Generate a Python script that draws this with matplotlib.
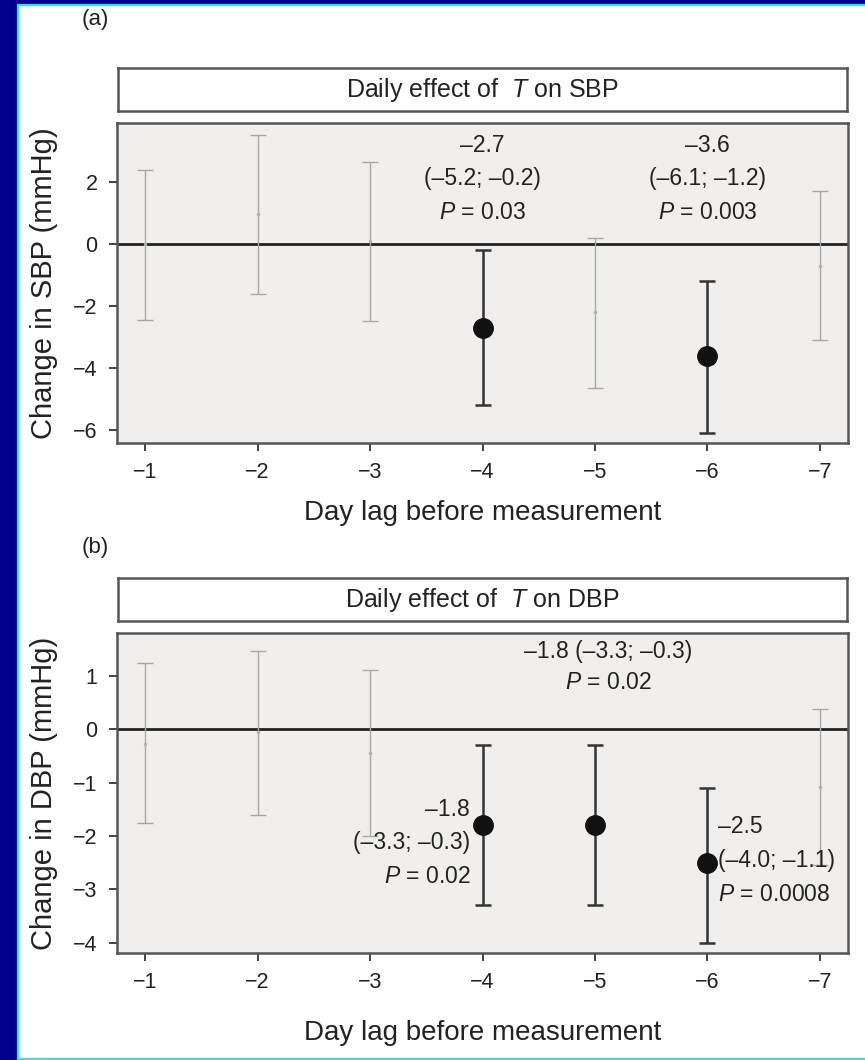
import matplotlib
matplotlib.use("Agg")
import matplotlib.pyplot as plt
from matplotlib.patches import Rectangle
from matplotlib import font_manager

names = {f.name for f in font_manager.fontManager.ttflist}
narrow = "Liberation Sans Narrow" if "Liberation Sans Narrow" in names else "Liberation Sans"
plt.rcParams["font.family"] = [narrow, "DejaVu Sans"]
plt.rcParams["mathtext.fontset"] = "custom"
plt.rcParams["mathtext.it"] = narrow + ":italic"
plt.rcParams["mathtext.rm"] = narrow

# day lags and model estimates with 95% CI
lags = [-1, -2, -3, -4, -5, -6, -7]

sbp_est = [0.0, 0.95, 0.1, -2.7, -2.2, -3.6, -0.7]
sbp_lo = [-2.45, -1.6, -2.5, -5.2, -4.65, -6.1, -3.1]
sbp_hi = [2.4, 3.5, 2.65, -0.2, 0.2, -1.2, 1.7]
sbp_sig = [False, False, False, True, False, True, False]
sbp_p = {-4: "0.03", -6: "0.003"}

dbp_est = [-0.28, -0.05, -0.45, -1.8, -1.8, -2.5, -1.08]
dbp_lo = [-1.76, -1.6, -2.0, -3.3, -3.3, -4.0, -2.54]
dbp_hi = [1.24, 1.47, 1.11, -0.3, -0.3, -1.1, 0.38]
dbp_sig = [False, False, False, True, True, True, False]

W, H = 865, 1060
fig = plt.figure(figsize=(W / 100, H / 100), dpi=100)
fig.patch.set_facecolor("#00008c")
fig.patches.append(Rectangle((17.5 / W, 1 - 1058.5 / H), (W + 5) / W, 1053.5 / H,
                             transform=fig.transFigure, facecolor="white",
                             edgecolor="#22e8f0", linewidth=1.6, zorder=-5))

TXT = "#222222"
ANN = dict(fontsize=16.5, linespacing=1.6, color=TXT, va="center")


def px(l, t, r, b):
    return [l / W, 1 - b / H, (r - l) / W, (b - t) / H]


def dash(v):
    return str(v).replace("-", "\u2013")


def strip(rect, title):
    s = fig.add_axes(px(*rect))
    s.set_xticks([])
    s.set_yticks([])
    s.set_facecolor("white")
    for sp in s.spines.values():
        sp.set_color("#555555")
        sp.set_linewidth(1.8)
    s.text(0.5, 0.5, title, ha="center", va="center", fontsize=18,
           transform=s.transAxes, color=TXT)


def panel(rect, est, lo, hi, sig, ylim, yticks, ylabel, xpad):
    ax = fig.add_axes(px(*rect))
    ax.set_facecolor("#f0efee")
    for x, m, a, b, s in zip(lags, est, lo, hi, sig):
        if s:
            ax.errorbar(x, m, yerr=[[m - a], [b - m]], fmt="o", color="#111111",
                        ecolor="#333333", elinewidth=1.8, capsize=6, capthick=1.8,
                        markersize=14, zorder=3)
        else:
            ax.errorbar(x, m, yerr=[[m - a], [b - m]], fmt="o", color="#b0b0b0",
                        ecolor="#a8a8a8", elinewidth=1.0, capsize=6, capthick=1.0,
                        markersize=1.5, zorder=2)
    ax.axhline(0, color="#222222", linewidth=2.0, zorder=1)
    ax.set_xlim(-0.75, -7.25)
    ax.set_ylim(*ylim)
    ax.set_xticks(lags)
    ax.set_yticks(yticks)
    ax.tick_params(labelsize=15.5, length=6, width=1.3, color="#333333", pad=8,
                   labelcolor=TXT)
    for sp in ax.spines.values():
        sp.set_color("#555555")
        sp.set_linewidth(1.8)
    ax.set_xlabel("Day lag before measurement", fontsize=20, labelpad=xpad, color=TXT)
    ax.set_ylabel(ylabel, fontsize=21, labelpad=11, color=TXT)
    return ax


# (a) systolic
fig.text(82 / W, 1 - 20 / H, "(a)", fontsize=16, va="center", ha="left", color=TXT)
strip((118, 68, 847, 111), "Daily effect of  $T$ on SBP")
ax1 = panel((117, 123, 848, 443), sbp_est, sbp_lo, sbp_hi, sbp_sig,
            (-6.42, 3.9), [2, 0, -2, -4, -6], "Change in SBP (mmHg)", 12)
for i, lag in enumerate(lags):
    if lag in sbp_p:
        ax1.text(lag, 2.1, "%s\n(%s; %s)\n$P$ = %s" % (
            dash(sbp_est[i]), dash(sbp_lo[i]), dash(sbp_hi[i]), sbp_p[lag]),
            ha="center", **ANN)

# (b) diastolic
fig.text(82 / W, 1 - 548 / H, "(b)", fontsize=16, va="center", ha="left", color=TXT)
strip((118, 578, 847, 621), "Daily effect of  $T$ on DBP")
ax2 = panel((117, 633, 848, 953), dbp_est, dbp_lo, dbp_hi, dbp_sig,
            (-4.19, 1.8), [1, 0, -1, -2, -3, -4], "Change in DBP (mmHg)", 19)
ax2.text(-5.12, 1.17, "%s (%s; %s)\n$P$ = 0.02" % (dash(dbp_est[4]), dash(dbp_lo[4]), dash(dbp_hi[4])),
         ha="center", **dict(ANN, linespacing=1.45))
ax2.text(-3.89, -2.13, "%s\n(%s; %s)\n$P$ = 0.02" % (dash(dbp_est[3]), dash(dbp_lo[3]), dash(dbp_hi[3])),
         ha="right", **ANN)
ax2.text(-6.09, -2.46, "%s\n(%s; %s)\n$P$ = 0.0008" % (dash(dbp_est[5]), dash(dbp_lo[5]), dash(dbp_hi[5])),
         ha="left", **ANN)

fig.savefig("out.png", dpi=100, facecolor=fig.get_facecolor())
